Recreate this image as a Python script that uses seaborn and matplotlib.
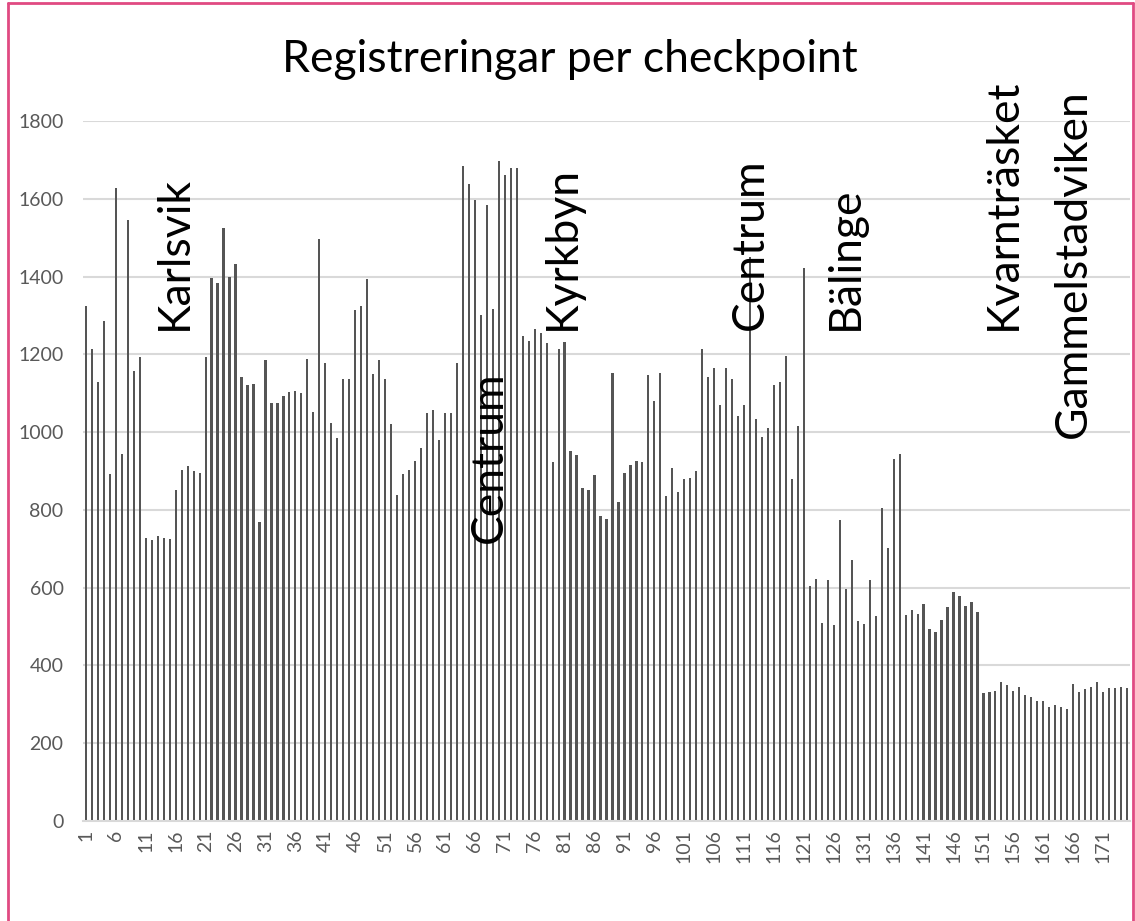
import matplotlib
matplotlib.use('Agg')
import matplotlib.pyplot as plt
import seaborn as sns
import pandas as pd
from matplotlib.lines import Line2D

# registreringar per checkpoint (1..175)
registreringar = [
    1325, 1215, 1130, 1286, 892, 1627, 945, 1545, 1156, 1192,
    727, 723, 734, 727, 725, 850, 902, 914, 900, 896,
    1192, 1397, 1384, 1525, 1399, 1433, 1142, 1120, 1123, 770,
    1186, 1076, 1076, 1094, 1103, 1106, 1100, 1189, 1053, 1496,
    1179, 1024, 984, 1136, 1136, 1314, 1324, 1393, 1149, 1186,
    1136, 1021, 839, 892, 902, 925, 958, 1050, 1057, 981,
    1050, 1050, 1179, 1684, 1638, 1598, 1301, 1585, 1317, 1697,
    1661, 1680, 1680, 1248, 1235, 1265, 1255, 1228, 922, 1215,
    1232, 951, 942, 855, 850, 889, 784, 777, 1153, 820,
    896, 915, 925, 922, 1146, 1081, 1153, 836, 908, 847,
    879, 883, 899, 1215, 1143, 1166, 1071, 1166, 1136, 1041,
    1071, 1450, 1034, 988, 1011, 1120, 1130, 1196, 880, 1017,
    1423, 605, 621, 510, 619, 503, 773, 596, 671, 513,
    506, 619, 526, 806, 701, 932, 945, 530, 542, 533,
    559, 494, 487, 517, 549, 589, 579, 553, 562, 537,
    328, 332, 335, 358, 349, 335, 345, 325, 318, 308,
    308, 292, 299, 292, 289, 351, 332, 339, 345, 358,
    332, 341, 341, 345, 341,
]
checkpoint = list(range(1, len(registreringar) + 1))

# platsnamn som står i diagrammet
platser = ['Karlsvik', 'Centrum', 'Kyrkbyn', 'Centrum', 'Bälinge', 'Kvarnträsket', 'Gammelstadviken']
plats_cp = [15.8, 68.5, 80.6, 112, 127.9, 154.3, 166]
plats_y = [1262, 715, 1262, 1262, 1262, 1262, 985]

df = pd.DataFrame({'checkpoint': checkpoint, 'antal': registreringar})

sns.set_style('white')
plt.rcParams['font.family'] = ['Lato', 'DejaVu Sans']

fig = plt.figure(figsize=(11.35, 9.21), dpi=100)
ax = fig.add_axes([0.0731, 0.1086, 0.9225, 0.76])

sns.barplot(data=df, x='checkpoint', y='antal', color='#555555',
            saturation=1, width=0.37, linewidth=0, ax=ax)

ax.set_ylim(0, 1800)
ax.set_yticks(range(0, 1801, 200))
ax.yaxis.grid(True, color='#d9d9d9', linewidth=1.5)
ax.set_axisbelow(True)

# var femte etikett på x-axeln
ax.set_xticks(range(0, len(checkpoint), 5))
ax.set_xticklabels([str(c) for c in checkpoint[::5]], rotation=90)
ax.set_xlim(-0.5, len(checkpoint) - 0.5)

ax.tick_params(axis='both', length=0, labelsize=14, labelcolor='#595959')
ax.tick_params(axis='y', pad=14)
ax.tick_params(axis='x', pad=6)
ax.set_xlabel('')
ax.set_ylabel('')

for s in ['top', 'right', 'left']:
    ax.spines[s].set_visible(False)
ax.spines['bottom'].set_color('#d9d9d9')
ax.spines['bottom'].set_linewidth(1.5)

for namn, cp, yy in zip(platser, plats_cp, plats_y):
    ax.text(cp - 1, yy, namn, rotation=90, ha='center', va='bottom',
            fontsize=32, color='black')

fig.text(0.502, 0.935, 'Registreringar per checkpoint', ha='center', va='center',
         fontsize=32, color='black')

# rosa ram runt bilden
rosa = '#e04a82'
fig.add_artist(Line2D([0.007, 0.007], [0, 0.997], color=rosa, lw=2))
fig.add_artist(Line2D([0.007, 0.998], [0.997, 0.997], color=rosa, lw=2))
fig.add_artist(Line2D([0.998, 0.998], [0, 0.997], color=rosa, lw=2))

plt.savefig('out.png', dpi=100)
